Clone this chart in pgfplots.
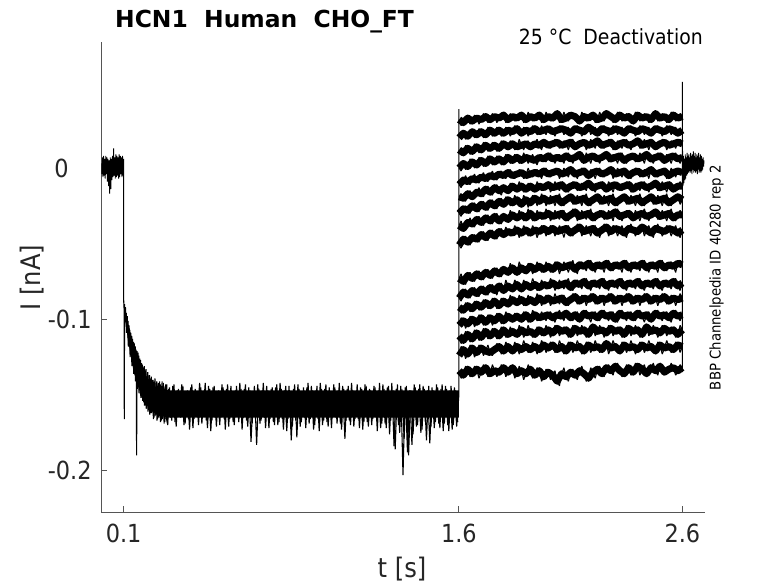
\documentclass[border=0pt]{standalone}
\usepackage{pgfplots}
\pgfplotsset{compat=1.18}
\usepackage{pgfplotstable}
\usepackage{fontspec}
\setmainfont{DejaVu Sans}[FakeStretch=0.9]
\newfontfamily\titlefont{DejaVu Sans}
\definecolor{txt}{HTML}{262626}
\definecolor{axc}{HTML}{555555}

\pgfplotstableread{
t v
0.0000 0.003
0.0025 -0.004
0.0050 0.007
0.0075 -0.006
0.0100 0.008
0.0125 -0.005
0.0150 0.006
0.0175 -0.007
0.0200 0.008
0.0225 -0.004
0.0250 0.007
0.0275 -0.009
0.0300 0.006
0.0325 -0.012
0.0350 0.005
0.0375 -0.017
0.0400 0.007
0.0425 -0.014
0.0450 0.006
0.0475 -0.008
0.0500 0.008
0.0525 -0.006
0.0550 0.013
0.0575 -0.005
0.0600 0.007
0.0625 -0.007
0.0650 0.009
0.0675 -0.006
0.0700 0.008
0.0725 -0.005
0.0750 0.007
0.0775 -0.007
0.0800 0.009
0.0825 -0.006
0.0850 0.008
0.0875 -0.004
0.0900 0.007
0.0925 -0.006
0.0950 0.008
0.0975 -0.005
0.0990 0.005
}\pre

\pgfplotstableread{
t v
0.1005 -0.089
0.110 -0.099
0.120 -0.106
0.130 -0.113
0.140 -0.119
0.150 -0.124
0.160 -0.128
0.170 -0.132
0.180 -0.135
0.190 -0.138
0.200 -0.140
0.220 -0.143
0.250 -0.145
0.300 -0.147
1.600 -0.147
1.600 -0.165
0.300 -0.165
0.250 -0.163
0.220 -0.160
0.200 -0.156
0.190 -0.153
0.180 -0.150
0.170 -0.146
0.160 -0.142
0.150 -0.136
0.140 -0.130
0.130 -0.122
0.120 -0.114
0.110 -0.104
0.1005 -0.092
}\core

\pgfplotstableread{
t v
0.100 0.006
0.100 -0.087
0.102 -0.093
0.103 -0.166
0.104 -0.090
0.106 -0.098
0.108 -0.092
0.110 -0.102
0.112 -0.096
0.114 -0.106
0.116 -0.098
0.118 -0.110
0.120 -0.101
0.122 -0.115
0.124 -0.104
0.126 -0.118
0.128 -0.107
0.130 -0.121
0.132 -0.109
0.134 -0.125
0.136 -0.111
0.138 -0.127
0.140 -0.113
0.142 -0.131
0.144 -0.115
0.146 -0.134
0.148 -0.116
0.150 -0.137
0.152 -0.118
0.154 -0.139
0.156 -0.120
0.158 -0.190
0.160 -0.121
0.162 -0.143
0.164 -0.122
0.166 -0.145
0.168 -0.124
0.170 -0.147
0.172 -0.126
0.174 -0.149
0.176 -0.127
0.178 -0.151
0.180 -0.129
0.182 -0.152
0.184 -0.130
0.186 -0.153
0.188 -0.132
0.190 -0.155
0.192 -0.131
0.194 -0.156
0.196 -0.134
0.198 -0.157
0.200 -0.133
0.204 -0.159
0.208 -0.135
0.212 -0.160
0.216 -0.137
0.220 -0.162
0.224 -0.138
0.228 -0.161
0.232 -0.140
0.236 -0.165
0.240 -0.139
0.244 -0.163
0.248 -0.141
0.252 -0.166
0.256 -0.142
0.260 -0.164
0.264 -0.143
0.268 -0.167
0.272 -0.141
0.276 -0.165
0.280 -0.144
0.284 -0.168
0.288 -0.143
0.292 -0.166
0.296 -0.169
0.30 -0.146
0.31 -0.165
0.32 -0.144
0.33 -0.168
0.34 -0.147
0.35 -0.163
0.36 -0.143
0.37 -0.170
0.38 -0.148
0.39 -0.166
0.40 -0.145
0.41 -0.172
0.42 -0.146
0.43 -0.164
0.44 -0.142
0.45 -0.169
0.46 -0.147
0.47 -0.167
0.48 -0.144
0.49 -0.174
0.50 -0.145
0.51 -0.165
0.52 -0.148
0.53 -0.170
0.54 -0.143
0.55 -0.166
0.56 -0.146
0.57 -0.171
0.58 -0.144
0.59 -0.168
0.60 -0.147
0.61 -0.164
0.62 -0.142
0.63 -0.173
0.64 -0.146
0.65 -0.167
0.66 -0.145
0.67 -0.181
0.68 -0.148
0.69 -0.166
0.70 -0.143
0.71 -0.169
0.72 -0.147
0.73 -0.165
0.74 -0.144
0.75 -0.172
0.76 -0.146
0.77 -0.168
0.78 -0.145
0.79 -0.170
0.80 -0.142
0.81 -0.166
0.82 -0.147
0.83 -0.174
0.84 -0.144
0.85 -0.180
0.86 -0.146
0.87 -0.167
0.88 -0.143
0.89 -0.171
0.90 -0.148
0.91 -0.165
0.92 -0.145
0.93 -0.169
0.94 -0.144
0.95 -0.173
0.96 -0.147
0.97 -0.166
0.98 -0.142
0.99 -0.170
1.00 -0.146
1.01 -0.168
1.02 -0.145
1.03 -0.172
1.04 -0.143
1.05 -0.165
1.06 -0.147
1.07 -0.169
1.08 -0.144
1.09 -0.179
1.10 -0.146
1.11 -0.167
1.12 -0.142
1.13 -0.171
1.14 -0.148
1.15 -0.166
1.16 -0.145
1.17 -0.173
1.18 -0.143
1.19 -0.168
1.20 -0.146
1.21 -0.170
1.22 -0.144
1.23 -0.165
1.24 -0.147
1.25 -0.172
1.26 -0.143
1.27 -0.169
1.28 -0.145
1.29 -0.176
1.30 -0.142
1.31 -0.184
1.32 -0.146
1.33 -0.170
1.34 -0.144
1.35 -0.203
1.36 -0.145
1.37 -0.188
1.38 -0.147
1.39 -0.183
1.40 -0.143
1.41 -0.171
1.42 -0.146
1.43 -0.175
1.44 -0.144
1.45 -0.168
1.46 -0.147
1.47 -0.182
1.48 -0.145
1.49 -0.172
1.50 -0.143
1.51 -0.169
1.52 -0.146
1.53 -0.174
1.54 -0.144
1.55 -0.170
1.56 -0.147
1.57 -0.173
1.58 -0.145
1.59 -0.171
1.60 -0.150
1.60 0.039
}\hyper

\pgfplotstableread{
t v
0.105 -0.099
0.109 -0.095
0.113 -0.109
0.117 -0.101
0.121 -0.118
0.125 -0.106
0.129 -0.125
0.133 -0.111
0.137 -0.131
0.141 -0.116
0.145 -0.136
0.149 -0.119
0.153 -0.141
0.157 -0.123
0.161 -0.146
0.165 -0.125
0.169 -0.149
0.173 -0.128
0.177 -0.152
0.181 -0.130
0.185 -0.154
0.189 -0.133
0.193 -0.157
0.197 -0.134
0.201 -0.159
0.205 -0.136
0.209 -0.161
0.213 -0.137
0.217 -0.163
0.221 -0.139
0.225 -0.162
0.229 -0.140
0.233 -0.166
0.237 -0.141
0.241 -0.164
0.245 -0.142
0.249 -0.167
0.253 -0.143
0.257 -0.165
0.261 -0.141
0.265 -0.168
0.269 -0.144
0.273 -0.166
0.277 -0.142
0.281 -0.169
0.285 -0.145
0.289 -0.166
0.293 -0.143
0.297 -0.170
0.305 -0.145
0.315 -0.167
0.325 -0.143
0.335 -0.171
0.345 -0.146
0.355 -0.165
0.365 -0.144
0.375 -0.169
0.385 -0.147
0.395 -0.173
0.405 -0.143
0.415 -0.166
0.425 -0.148
0.435 -0.170
0.445 -0.145
0.455 -0.164
0.465 -0.142
0.475 -0.172
0.485 -0.146
0.495 -0.167
0.505 -0.144
0.515 -0.171
0.525 -0.147
0.535 -0.165
0.545 -0.145
0.555 -0.173
0.565 -0.143
0.575 -0.166
0.585 -0.148
0.595 -0.170
0.605 -0.144
0.615 -0.168
0.625 -0.146
0.635 -0.165
0.645 -0.143
0.655 -0.171
0.665 -0.147
0.675 -0.169
0.685 -0.144
0.695 -0.183
0.705 -0.146
0.715 -0.167
0.725 -0.142
0.735 -0.172
0.745 -0.147
0.755 -0.166
0.765 -0.145
0.775 -0.170
0.785 -0.143
0.795 -0.168
0.805 -0.146
0.815 -0.173
0.825 -0.144
0.835 -0.166
0.845 -0.148
0.855 -0.171
0.865 -0.143
0.875 -0.178
0.885 -0.146
0.895 -0.168
0.905 -0.145
0.915 -0.172
0.925 -0.142
0.935 -0.166
0.945 -0.147
0.955 -0.170
0.965 -0.144
0.975 -0.174
0.985 -0.146
0.995 -0.167
1.005 -0.143
1.015 -0.171
1.025 -0.148
1.035 -0.165
1.045 -0.145
1.055 -0.169
1.065 -0.142
1.075 -0.173
1.085 -0.146
1.095 -0.167
1.105 -0.144
1.115 -0.170
1.125 -0.147
1.135 -0.166
1.145 -0.143
1.155 -0.172
1.165 -0.146
1.175 -0.168
1.185 -0.144
1.195 -0.171
1.205 -0.147
1.215 -0.166
1.225 -0.145
1.235 -0.174
1.245 -0.142
1.255 -0.169
1.265 -0.146
1.275 -0.172
1.285 -0.144
1.295 -0.167
1.305 -0.147
1.315 -0.186
1.325 -0.143
1.335 -0.175
1.345 -0.146
1.355 -0.179
1.365 -0.144
1.375 -0.190
1.385 -0.147
1.395 -0.176
1.405 -0.145
1.415 -0.170
1.425 -0.143
1.435 -0.173
1.445 -0.146
1.455 -0.180
1.465 -0.144
1.475 -0.171
1.485 -0.147
1.495 -0.168
1.505 -0.145
1.515 -0.172
1.525 -0.143
1.535 -0.169
1.545 -0.146
1.555 -0.174
1.565 -0.144
1.575 -0.170
1.585 -0.147
1.595 -0.168
}\hyperb

\pgfplotstableread{
t y1 y2 y3 y4 y5 y6 y7 y8 y9 y10 y11 y12 y13 y14 y15 y16
1.601 0.032 0.020 0.012 0.000 -0.011 -0.019 -0.030 -0.038 -0.051 -0.073 -0.086 -0.092 -0.104 -0.111 -0.124 -0.134
1.61 0.028 0.024 0.009 -0.002 -0.013 -0.017 -0.032 -0.035 -0.053 -0.070 -0.088 -0.096 -0.099 -0.116 -0.118 -0.139
1.62 0.030 0.023 0.010 0.003 -0.008 -0.020 -0.027 -0.040 -0.047 -0.075 -0.082 -0.094 -0.101 -0.114 -0.120 -0.137
1.63 0.034 0.019 0.015 -0.001 -0.005 -0.022 -0.025 -0.041 -0.045 -0.077 -0.080 -0.089 -0.106 -0.108 -0.126 -0.131
1.64 0.033 0.021 0.013 0.001 -0.009 -0.017 -0.028 -0.036 -0.049 -0.071 -0.084 -0.091 -0.103 -0.110 -0.123 -0.133
1.65 0.029 0.025 0.009 0.006 -0.011 -0.015 -0.030 -0.033 -0.051 -0.069 -0.086 -0.095 -0.098 -0.115 -0.117 -0.138
1.66 0.031 0.024 0.011 0.004 -0.007 -0.019 -0.025 -0.037 -0.046 -0.073 -0.081 -0.093 -0.100 -0.113 -0.119 -0.136
1.67 0.035 0.020 0.016 0.000 -0.004 -0.020 -0.023 -0.039 -0.044 -0.075 -0.079 -0.088 -0.105 -0.107 -0.125 -0.131
1.68 0.033 0.022 0.014 0.002 -0.008 -0.016 -0.027 -0.034 -0.047 -0.070 -0.083 -0.090 -0.102 -0.109 -0.122 -0.133
1.69 0.029 0.026 0.010 0.007 -0.010 -0.013 -0.029 -0.032 -0.049 -0.068 -0.085 -0.094 -0.097 -0.114 -0.117 -0.139
1.70 0.032 0.024 0.012 0.005 -0.006 -0.017 -0.024 -0.036 -0.044 -0.072 -0.080 -0.092 -0.099 -0.112 -0.119 -0.135
1.71 0.036 0.020 0.017 0.001 -0.003 -0.019 -0.022 -0.038 -0.042 -0.074 -0.078 -0.087 -0.104 -0.106 -0.124 -0.130
1.72 0.034 0.022 0.015 0.003 -0.007 -0.014 -0.026 -0.033 -0.046 -0.069 -0.082 -0.089 -0.102 -0.108 -0.121 -0.132
1.73 0.030 0.027 0.011 0.008 -0.009 -0.012 -0.028 -0.031 -0.048 -0.067 -0.084 -0.093 -0.097 -0.113 -0.117 -0.138
1.74 0.032 0.025 0.013 0.006 -0.005 -0.016 -0.023 -0.035 -0.043 -0.071 -0.079 -0.091 -0.099 -0.111 -0.122 -0.136
1.75 0.036 0.021 0.017 0.002 -0.002 -0.018 -0.021 -0.037 -0.041 -0.073 -0.077 -0.086 -0.104 -0.106 -0.124 -0.130
1.76 0.034 0.023 0.015 0.004 -0.006 -0.013 -0.025 -0.032 -0.045 -0.068 -0.081 -0.088 -0.101 -0.108 -0.120 -0.134
1.77 0.030 0.027 0.011 0.008 -0.008 -0.011 -0.027 -0.030 -0.047 -0.066 -0.084 -0.093 -0.096 -0.113 -0.116 -0.138
1.78 0.033 0.025 0.013 0.006 -0.004 -0.015 -0.022 -0.035 -0.042 -0.070 -0.078 -0.091 -0.098 -0.111 -0.118 -0.135
1.79 0.036 0.021 0.018 0.002 -0.002 -0.018 -0.020 -0.037 -0.040 -0.072 -0.076 -0.086 -0.103 -0.105 -0.123 -0.130
1.80 0.035 0.023 0.016 0.004 -0.005 -0.013 -0.024 -0.032 -0.044 -0.067 -0.081 -0.088 -0.101 -0.107 -0.121 -0.132
1.81 0.030 0.027 0.013 0.009 -0.007 -0.015 -0.019 -0.035 -0.039 -0.069 -0.074 -0.091 -0.095 -0.112 -0.115 -0.138
1.82 0.032 0.025 0.014 0.007 -0.003 -0.015 -0.021 -0.034 -0.042 -0.069 -0.078 -0.090 -0.098 -0.110 -0.118 -0.135
1.83 0.036 0.021 0.018 0.003 -0.001 -0.010 -0.025 -0.028 -0.045 -0.063 -0.080 -0.084 -0.101 -0.105 -0.122 -0.131
1.84 0.034 0.024 0.016 0.005 -0.005 -0.012 -0.023 -0.031 -0.043 -0.066 -0.080 -0.087 -0.100 -0.108 -0.121 -0.132
1.85 0.031 0.028 0.012 0.009 -0.007 -0.015 -0.018 -0.034 -0.038 -0.070 -0.074 -0.090 -0.096 -0.111 -0.115 -0.139
1.86 0.033 0.026 0.014 0.007 -0.004 -0.014 -0.021 -0.033 -0.041 -0.069 -0.077 -0.089 -0.098 -0.110 -0.118 -0.136
1.87 0.036 0.022 0.019 0.003 -0.001 -0.009 -0.025 -0.028 -0.046 -0.062 -0.081 -0.084 -0.101 -0.104 -0.123 -0.131
1.88 0.035 0.023 0.015 0.005 -0.003 -0.012 -0.024 -0.031 -0.043 -0.066 -0.080 -0.087 -0.100 -0.107 -0.120 -0.134
1.89 0.030 0.027 0.012 0.010 -0.007 -0.016 -0.018 -0.035 -0.038 -0.069 -0.074 -0.091 -0.095 -0.112 -0.114 -0.140
1.90 0.032 0.025 0.016 0.007 -0.005 -0.014 -0.021 -0.033 -0.041 -0.068 -0.077 -0.089 -0.097 -0.109 -0.118 -0.136
1.91 0.037 0.021 0.018 0.003 0.000 -0.010 -0.026 -0.027 -0.045 -0.063 -0.080 -0.084 -0.102 -0.104 -0.122 -0.130
1.92 0.034 0.024 0.014 0.006 -0.004 -0.012 -0.023 -0.030 -0.043 -0.065 -0.079 -0.087 -0.100 -0.108 -0.120 -0.133
1.93 0.031 0.028 0.013 0.009 -0.006 -0.015 -0.018 -0.035 -0.038 -0.070 -0.073 -0.090 -0.094 -0.112 -0.115 -0.139
1.94 0.033 0.026 0.016 0.005 -0.003 -0.014 -0.020 -0.033 -0.041 -0.067 -0.077 -0.089 -0.097 -0.110 -0.118 -0.137
1.95 0.036 0.022 0.019 0.002 -0.001 -0.009 -0.025 -0.028 -0.046 -0.062 -0.081 -0.083 -0.101 -0.105 -0.123 -0.132
1.96 0.035 0.024 0.015 0.007 -0.004 -0.012 -0.022 -0.031 -0.042 -0.065 -0.079 -0.086 -0.099 -0.107 -0.120 -0.134
1.97 0.030 0.028 0.012 0.009 -0.007 -0.015 -0.017 -0.034 -0.038 -0.069 -0.074 -0.091 -0.095 -0.111 -0.114 -0.141
1.98 0.032 0.025 0.017 0.006 -0.002 -0.013 -0.020 -0.032 -0.040 -0.067 -0.077 -0.088 -0.098 -0.109 -0.117 -0.138
1.99 0.037 0.022 0.018 0.004 0.000 -0.010 -0.025 -0.027 -0.045 -0.062 -0.080 -0.084 -0.101 -0.104 -0.122 -0.133
2.00 0.034 0.026 0.015 0.008 -0.004 -0.011 -0.022 -0.030 -0.042 -0.065 -0.078 -0.086 -0.097 -0.107 -0.119 -0.135
2.01 0.031 0.027 0.013 0.010 -0.006 -0.016 -0.018 -0.035 -0.038 -0.069 -0.073 -0.091 -0.095 -0.112 -0.115 -0.140
2.02 0.033 0.024 0.016 0.006 -0.003 -0.013 -0.021 -0.032 -0.040 -0.067 -0.076 -0.088 -0.099 -0.109 -0.117 -0.137
2.03 0.036 0.021 0.019 0.003 -0.001 -0.009 -0.025 -0.028 -0.045 -0.062 -0.081 -0.083 -0.102 -0.104 -0.122 -0.134
2.04 0.036 0.025 0.017 0.007 -0.002 -0.012 -0.020 -0.031 -0.042 -0.064 -0.078 -0.087 -0.097 -0.106 -0.120 -0.141
2.05 0.030 0.028 0.013 0.009 -0.007 -0.015 -0.017 -0.034 -0.038 -0.070 -0.074 -0.090 -0.094 -0.111 -0.114 -0.144
2.06 0.032 0.026 0.015 0.006 -0.004 -0.011 -0.023 -0.030 -0.041 -0.066 -0.077 -0.086 -0.098 -0.108 -0.118 -0.136
2.07 0.037 0.022 0.018 0.003 0.000 -0.010 -0.025 -0.028 -0.046 -0.062 -0.080 -0.084 -0.101 -0.105 -0.123 -0.132
2.08 0.033 0.025 0.016 0.008 -0.003 -0.014 -0.021 -0.033 -0.040 -0.065 -0.076 -0.089 -0.096 -0.107 -0.121 -0.138
2.09 0.031 0.027 0.012 0.010 -0.006 -0.016 -0.018 -0.035 -0.038 -0.069 -0.073 -0.091 -0.095 -0.112 -0.115 -0.141
2.10 0.035 0.023 0.017 0.006 -0.001 -0.012 -0.019 -0.031 -0.043 -0.064 -0.079 -0.087 -0.099 -0.110 -0.117 -0.135
2.11 0.036 0.022 0.019 0.003 -0.001 -0.009 -0.024 -0.027 -0.045 -0.061 -0.081 -0.083 -0.101 -0.104 -0.122 -0.133
2.12 0.034 0.026 0.014 0.007 -0.004 -0.011 -0.022 -0.029 -0.041 -0.067 -0.076 -0.085 -0.097 -0.106 -0.119 -0.137
2.13 0.030 0.028 0.013 0.009 -0.007 -0.015 -0.018 -0.035 -0.037 -0.070 -0.074 -0.090 -0.095 -0.111 -0.114 -0.140
2.14 0.031 0.025 0.016 0.009 -0.003 -0.013 -0.021 -0.032 -0.039 -0.064 -0.077 -0.088 -0.100 -0.108 -0.118 -0.134
2.15 0.037 0.021 0.018 0.004 0.000 -0.010 -0.025 -0.028 -0.045 -0.062 -0.080 -0.084 -0.101 -0.104 -0.123 -0.131
2.16 0.034 0.024 0.017 0.005 -0.002 -0.012 -0.020 -0.031 -0.042 -0.065 -0.075 -0.086 -0.096 -0.107 -0.121 -0.136
2.17 0.031 0.028 0.012 0.010 -0.006 -0.015 -0.017 -0.034 -0.038 -0.068 -0.073 -0.091 -0.094 -0.112 -0.115 -0.141
2.18 0.033 0.027 0.015 0.007 -0.005 -0.010 -0.023 -0.030 -0.041 -0.063 -0.078 -0.087 -0.098 -0.110 -0.117 -0.139
2.19 0.036 0.022 0.019 0.003 -0.001 -0.009 -0.025 -0.027 -0.045 -0.061 -0.081 -0.083 -0.102 -0.105 -0.122 -0.132
2.20 0.035 0.025 0.016 0.008 -0.003 -0.013 -0.021 -0.033 -0.040 -0.066 -0.076 -0.085 -0.097 -0.105 -0.119 -0.135
2.21 0.030 0.027 0.013 0.009 -0.007 -0.016 -0.018 -0.035 -0.038 -0.069 -0.074 -0.090 -0.095 -0.111 -0.114 -0.139
2.22 0.032 0.023 0.018 0.006 -0.002 -0.012 -0.019 -0.031 -0.043 -0.064 -0.077 -0.088 -0.099 -0.108 -0.118 -0.133
2.23 0.037 0.022 0.018 0.003 0.000 -0.010 -0.024 -0.028 -0.046 -0.062 -0.080 -0.084 -0.101 -0.104 -0.122 -0.131
2.24 0.033 0.026 0.015 0.007 -0.004 -0.011 -0.022 -0.030 -0.041 -0.065 -0.075 -0.086 -0.096 -0.107 -0.120 -0.136
2.25 0.031 0.028 0.013 0.010 -0.006 -0.015 -0.018 -0.034 -0.037 -0.069 -0.073 -0.091 -0.094 -0.112 -0.115 -0.138
2.26 0.036 0.025 0.016 0.009 -0.003 -0.014 -0.021 -0.032 -0.039 -0.063 -0.078 -0.087 -0.098 -0.109 -0.116 -0.132
2.27 0.036 0.021 0.019 0.004 -0.001 -0.009 -0.025 -0.028 -0.045 -0.061 -0.081 -0.083 -0.101 -0.104 -0.123 -0.130
2.28 0.034 0.024 0.017 0.006 -0.001 -0.012 -0.020 -0.031 -0.042 -0.066 -0.076 -0.085 -0.097 -0.106 -0.119 -0.134
2.29 0.030 0.028 0.012 0.009 -0.007 -0.016 -0.017 -0.035 -0.038 -0.068 -0.074 -0.090 -0.095 -0.111 -0.114 -0.137
2.30 0.032 0.026 0.014 0.007 -0.004 -0.011 -0.023 -0.029 -0.040 -0.064 -0.077 -0.088 -0.100 -0.108 -0.118 -0.131
2.31 0.037 0.022 0.018 0.003 0.000 -0.010 -0.025 -0.027 -0.045 -0.062 -0.080 -0.084 -0.102 -0.105 -0.122 -0.129
2.32 0.035 0.025 0.016 0.008 -0.003 -0.013 -0.021 -0.032 -0.041 -0.065 -0.075 -0.086 -0.096 -0.107 -0.121 -0.134
2.33 0.031 0.027 0.013 0.010 -0.006 -0.015 -0.018 -0.035 -0.038 -0.069 -0.073 -0.091 -0.094 -0.112 -0.115 -0.138
2.34 0.033 0.023 0.017 0.005 -0.002 -0.012 -0.019 -0.031 -0.043 -0.063 -0.078 -0.087 -0.098 -0.110 -0.117 -0.136
2.35 0.036 0.022 0.019 0.003 -0.001 -0.009 -0.024 -0.028 -0.046 -0.061 -0.081 -0.083 -0.101 -0.104 -0.122 -0.130
2.36 0.034 0.026 0.015 0.007 -0.005 -0.011 -0.022 -0.030 -0.040 -0.066 -0.076 -0.085 -0.097 -0.106 -0.119 -0.132
2.37 0.030 0.028 0.012 0.009 -0.007 -0.016 -0.018 -0.034 -0.037 -0.069 -0.074 -0.090 -0.095 -0.111 -0.114 -0.137
2.38 0.031 0.025 0.016 0.008 -0.003 -0.014 -0.021 -0.033 -0.041 -0.064 -0.077 -0.088 -0.099 -0.108 -0.118 -0.135
2.39 0.037 0.021 0.018 0.004 0.000 -0.010 -0.025 -0.028 -0.045 -0.062 -0.080 -0.084 -0.101 -0.104 -0.123 -0.129
2.40 0.035 0.024 0.018 0.006 -0.002 -0.012 -0.020 -0.031 -0.042 -0.065 -0.075 -0.086 -0.096 -0.107 -0.120 -0.131
2.41 0.031 0.028 0.013 0.010 -0.006 -0.015 -0.017 -0.035 -0.038 -0.068 -0.073 -0.091 -0.094 -0.112 -0.115 -0.137
2.42 0.033 0.026 0.015 0.007 -0.004 -0.011 -0.023 -0.030 -0.039 -0.063 -0.078 -0.087 -0.098 -0.110 -0.117 -0.133
2.43 0.036 0.022 0.019 0.003 -0.001 -0.009 -0.025 -0.027 -0.045 -0.061 -0.081 -0.083 -0.102 -0.105 -0.122 -0.130
2.44 0.034 0.025 0.016 0.009 -0.003 -0.013 -0.021 -0.032 -0.041 -0.066 -0.076 -0.085 -0.097 -0.105 -0.119 -0.136
2.45 0.030 0.027 0.012 0.009 -0.007 -0.016 -0.018 -0.035 -0.038 -0.069 -0.074 -0.090 -0.095 -0.111 -0.114 -0.136
2.46 0.032 0.023 0.017 0.006 -0.001 -0.012 -0.019 -0.031 -0.043 -0.064 -0.077 -0.088 -0.100 -0.108 -0.118 -0.132
2.47 0.037 0.022 0.018 0.003 0.000 -0.010 -0.024 -0.028 -0.046 -0.062 -0.080 -0.084 -0.101 -0.104 -0.122 -0.129
2.48 0.036 0.026 0.014 0.007 -0.004 -0.010 -0.022 -0.029 -0.040 -0.065 -0.075 -0.086 -0.096 -0.107 -0.121 -0.134
2.49 0.031 0.028 0.013 0.010 -0.006 -0.015 -0.018 -0.034 -0.037 -0.069 -0.073 -0.091 -0.094 -0.112 -0.115 -0.137
2.50 0.033 0.025 0.016 0.008 -0.003 -0.013 -0.021 -0.032 -0.041 -0.063 -0.078 -0.087 -0.098 -0.109 -0.117 -0.131
2.51 0.036 0.021 0.019 0.004 -0.001 -0.009 -0.025 -0.028 -0.045 -0.061 -0.081 -0.083 -0.101 -0.104 -0.123 -0.130
2.52 0.034 0.024 0.017 0.005 -0.002 -0.012 -0.020 -0.031 -0.042 -0.066 -0.076 -0.085 -0.097 -0.106 -0.119 -0.135
2.53 0.030 0.028 0.012 0.009 -0.007 -0.016 -0.017 -0.035 -0.038 -0.068 -0.074 -0.090 -0.095 -0.111 -0.114 -0.136
2.54 0.032 0.026 0.015 0.007 -0.005 -0.011 -0.023 -0.030 -0.040 -0.064 -0.077 -0.088 -0.099 -0.108 -0.118 -0.133
2.55 0.037 0.022 0.018 0.003 0.000 -0.010 -0.025 -0.027 -0.045 -0.062 -0.080 -0.084 -0.102 -0.105 -0.122 -0.129
2.56 0.035 0.025 0.016 0.008 -0.003 -0.014 -0.021 -0.033 -0.041 -0.065 -0.075 -0.086 -0.096 -0.107 -0.120 -0.132
2.57 0.031 0.027 0.013 0.010 -0.006 -0.015 -0.018 -0.035 -0.038 -0.069 -0.073 -0.091 -0.094 -0.112 -0.115 -0.137
2.58 0.033 0.023 0.017 0.006 -0.002 -0.012 -0.019 -0.031 -0.043 -0.063 -0.078 -0.087 -0.098 -0.110 -0.117 -0.134
2.59 0.036 0.022 0.019 0.003 -0.001 -0.009 -0.024 -0.028 -0.046 -0.061 -0.081 -0.083 -0.101 -0.104 -0.122 -0.130
2.60 0.034 0.025 0.016 0.007 -0.003 -0.012 -0.021 -0.031 -0.041 -0.064 -0.076 -0.086 -0.097 -0.107 -0.118 -0.132
}\tail

\pgfplotstableread{
t v
2.600 -0.135
2.600 0.057
2.601 0.004
2.603 -0.012
2.605 0.008
2.607 -0.010
2.609 0.006
2.611 -0.008
2.613 0.009
2.615 -0.007
2.617 0.007
2.619 -0.005
2.621 0.010
2.623 -0.004
2.625 0.008
2.627 -0.003
2.629 0.009
2.631 -0.002
2.633 0.007
2.635 -0.003
2.637 0.010
2.639 -0.002
2.641 0.008
2.643 -0.004
2.645 0.009
2.647 -0.001
2.649 0.011
2.651 -0.003
2.653 0.008
2.655 -0.002
2.657 0.010
2.659 -0.003
2.661 0.007
2.663 -0.002
2.665 0.009
2.667 -0.004
2.669 0.008
2.671 -0.001
2.673 0.010
2.675 -0.003
2.677 0.007
2.679 -0.002
2.681 0.009
2.683 -0.003
2.685 0.008
2.687 -0.002
2.689 0.006
2.691 -0.001
2.693 0.007
2.695 0.001
2.697 0.005
}\post

\begin{document}
\begin{tikzpicture}
\begin{axis}[
  at={(0,0)}, anchor=south west,
  scale only axis, width=603.4bp, height=470.3bp,
  xmin=0, xmax=2.7, ymin=-0.2276, ymax=0.0833,
  axis x line*=bottom, axis y line*=left,
  axis line style={axc, line width=0.75bp},
  xtick={0.1,1.6,2.6}, xticklabels={0.1,1.6,2.6},
  ytick={-0.2,-0.1,0}, yticklabels={-0.2,-0.1,0\hspace*{23bp}},
  tick align=inside, major tick length=6bp,
  tick style={axc, line width=0.75bp},
  ticklabel style={font=\fontsize{25}{30}\selectfont, text=txt},
  xticklabel style={inner sep=0pt, anchor=north, yshift=-11.5bp},
  yticklabel style={inner sep=0pt, anchor=east, xshift=-9.5bp},
]
\addplot[black, line width=0.9pt, mark=none] table[x=t, y=v] {\pre};
\addplot[fill=black, draw=none, mark=none] table[x=t, y=v] {\core};
\addplot[black, line width=1.1pt, mark=none, line join=bevel] table[x=t, y=v] {\hyper};
\addplot[black, line width=1.1pt, mark=none, line join=bevel] table[x=t, y=v] {\hyperb};
\pgfplotsinvokeforeach{1,...,16}{
  \addplot[black, line width=7bp, mark=none, line join=round, each nth point=2] table[x=t, y=y#1] {\tail};
  \addplot[black, line width=1.1pt, mark=none, line join=bevel] table[x=t, y=y#1] {\tail};
}
\addplot[black, line width=0.9pt, mark=none] table[x=t, y=v] {\post};
\end{axis}
\node[anchor=base west, inner sep=0, font=\titlefont\fontsize{23.5}{28}\selectfont\bfseries] at (13.7bp,485bp) {HCN1\ \ Human\ \ CHO\_FT};
\node[anchor=base east, inner sep=0, font=\fontsize{21}{25}\selectfont] at (601.7bp,467.3bp) {25 °C\ \ Deactivation};
\node[rotate=90, inner sep=0, font=\fontsize{14.8}{18}\selectfont] at (615.2bp,234.8bp) {BBP Channelpedia ID 40280 rep 2};
\node[anchor=base, inner sep=0, font=\fontsize{27}{32}\selectfont, text=txt] at (300.7bp,-65.2bp) {t [s]};
\node[rotate=90, anchor=base, inner sep=0, font=\fontsize{27}{32}\selectfont, text=txt] at (-60.3bp,234.8bp) {I [nA]};
\pgfresetboundingbox
\path[use as bounding box] (-101.3bp,-70.7bp) rectangle (676.7bp,512.3bp);
\end{tikzpicture}
\end{document}
